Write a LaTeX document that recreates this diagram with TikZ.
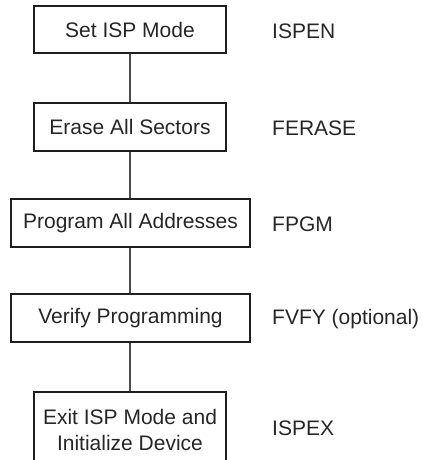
\documentclass[tikz,border=0pt]{standalone}
\usepackage{fontspec}
\setmainfont{Liberation Sans}
\begin{document}
\begin{tikzpicture}[x=1pt,y=-1pt,
  txt/.style={font=\fontsize{21}{26}\selectfont, text=black!85},
  stepbox/.style={txt, draw=black!88, line width=2.2pt, rectangle, inner sep=0pt, align=center},
  narrowbox/.style={stepbox, minimum width=192pt},
  widebox/.style={stepbox, minimum width=239pt},
  lbl/.style={txt, anchor=west, inner sep=0pt},
  conn/.style={draw=black!70, line width=1.4pt}]
\useasboundingbox (0,0) rectangle (421,460);
\node[narrowbox, minimum height=47pt] (b1) at (130,29.5) {Set ISP Mode};
\node[narrowbox, minimum height=48pt] (b2) at (130,127) {Erase All Sectors};
\node[widebox, minimum height=48pt] (b3) at (130.5,223) {Program All Addresses};
\node[widebox, minimum height=48pt] (b4) at (130.5,318) {Verify Programming};
\node[narrowbox, minimum height=76pt] (b5) at (130,430) {Exit ISP Mode and\\Initialize Device};
\node[lbl] (l1) at (272,31) {ISPEN};
\node[lbl] (l2) at (272,128) {FERASE};
\node[lbl] (l3) at (272,224) {FPGM};
\node[lbl] (l4) at (272,319) {FVFY (optional)};
\node[lbl] (l5) at (272,428) {ISPEX};
\draw[conn] (b1.south) -- (b2.north);
\draw[conn] (b2.south) -- (b3.north -| b2.south);
\draw[conn] (b3.south -| b2.south) -- (b4.north -| b2.south);
\draw[conn] (b4.south -| b2.south) -- (b5.north);
\end{tikzpicture}
\end{document}
